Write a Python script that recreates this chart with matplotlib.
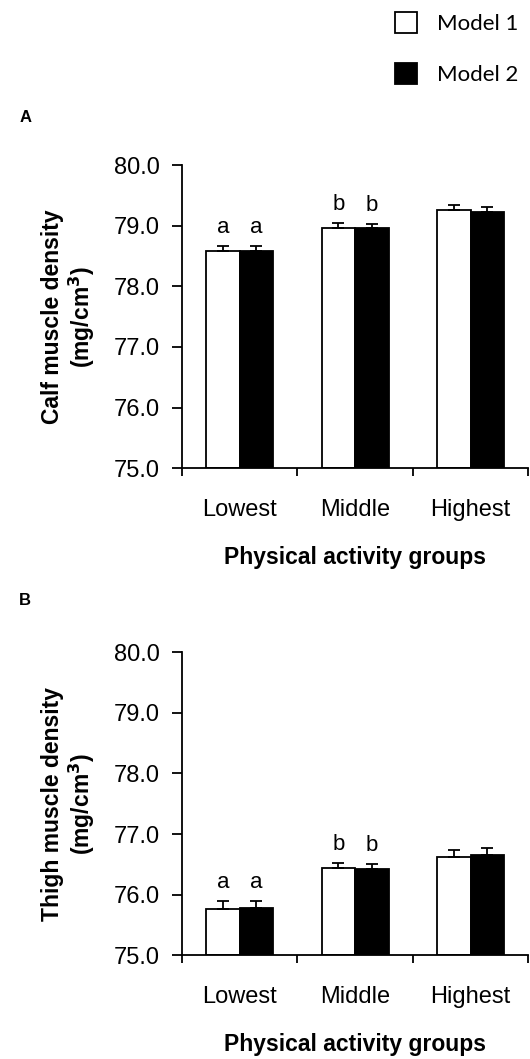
import matplotlib
matplotlib.use("Agg")
import matplotlib.pyplot as plt
from matplotlib.patches import Patch
import numpy as np

plt.rcParams['font.family'] = ['Liberation Sans', 'DejaVu Sans']

groups = ["Lowest", "Middle", "Highest"]
series = ["Model 1", "Model 2"]

# panel A: calf
calf_m1 = [78.59, 78.97, 79.26]
calf_m2 = [78.59, 78.96, 79.23]
calf_err_m1 = [0.08, 0.07, 0.09]
calf_err_m2 = [0.08, 0.07, 0.08]
calf_letters = ["a", "b", ""]

# panel B: thigh
thigh_m1 = [75.76, 76.44, 76.62]
thigh_m2 = [75.78, 76.42, 76.66]
thigh_err_m1 = [0.13, 0.09, 0.12]
thigh_err_m2 = [0.12, 0.09, 0.11]
thigh_letters = ["a", "b", ""]

yticks = [75.0, 76.0, 77.0, 78.0, 79.0, 80.0]


def draw_panel(ax, m1, m2, e1, e2, letters, ylabel):
    x = np.arange(len(groups))
    w = 0.29
    off = 0.145
    for vals, errs, xs, col in [(m1, e1, x - off, "white"), (m2, e2, x + off, "black")]:
        ax.bar(xs, np.array(vals) - 75.0, bottom=75.0, width=w, color=col,
               edgecolor="black", linewidth=1.3, zorder=2)
        ax.errorbar(xs, vals, yerr=[np.zeros(len(errs)), errs], fmt="none",
                    ecolor="black", elinewidth=1.3, capsize=4.5, capthick=1.3, zorder=3)
        for xi, v, er, lab in zip(xs, vals, errs, letters):
            if lab:
                ax.text(xi, v + er + 0.13, lab, ha="center", va="bottom", fontsize=16)
    ax.set_xlim(-0.5, 2.5)
    ax.set_ylim(75.0, 80.0)
    ax.set_yticks(yticks)
    ax.set_yticklabels([f"{t:.1f}" for t in yticks], fontsize=17)
    ax.set_xticks(x)
    ax.set_xticklabels(groups, fontsize=17)
    ax.set_xticks([-0.5, 0.5, 1.5, 2.5], minor=True)
    ax.tick_params(axis="x", which="major", length=0, pad=22)
    ax.tick_params(axis="x", which="minor", length=6, width=1.3, direction="out")
    ax.tick_params(axis="y", length=7, width=1.3, pad=9)
    for s in ["top", "right"]:
        ax.spines[s].set_visible(False)
    for s in ["left", "bottom"]:
        ax.spines[s].set_linewidth(1.3)
    ax.set_xlabel("Physical activity groups", fontsize=16.5, fontweight="bold", labelpad=18)
    ax.set_ylabel(ylabel, fontsize=16.5, fontweight="bold", labelpad=12, linespacing=1.1)


fig = plt.figure(figsize=(5.3, 10.59), dpi=100)
ax1 = fig.add_axes([0.343, 0.558, 0.654, 0.286])
ax2 = fig.add_axes([0.343, 0.098, 0.654, 0.286])

draw_panel(ax1, calf_m1, calf_m2, calf_err_m1, calf_err_m2, calf_letters,
           "Calf muscle density\n(mg/cm$^\\mathbf{3}$)")
draw_panel(ax2, thigh_m1, thigh_m2, thigh_err_m1, thigh_err_m2, thigh_letters,
           "Thigh muscle density\n(mg/cm$^\\mathbf{3}$)")

fig.text(0.036, 0.889, "A", fontsize=12, fontweight="bold", ha="left", va="center")
fig.text(0.036, 0.433, "B", fontsize=12, fontweight="bold", ha="left", va="center")

handles = [Patch(facecolor="white", edgecolor="black", linewidth=1.3),
           Patch(facecolor="black", edgecolor="black", linewidth=1.3)]
fig.legend(handles, series, loc="upper right", bbox_to_anchor=(1.016, 1.008),
           frameon=False, handlelength=1.0, handleheight=1.1, handletextpad=0.9,
           labelspacing=1.3, borderaxespad=0.5, prop={"family": "Lato", "size": 16})

fig.savefig("out.png", dpi=100)
